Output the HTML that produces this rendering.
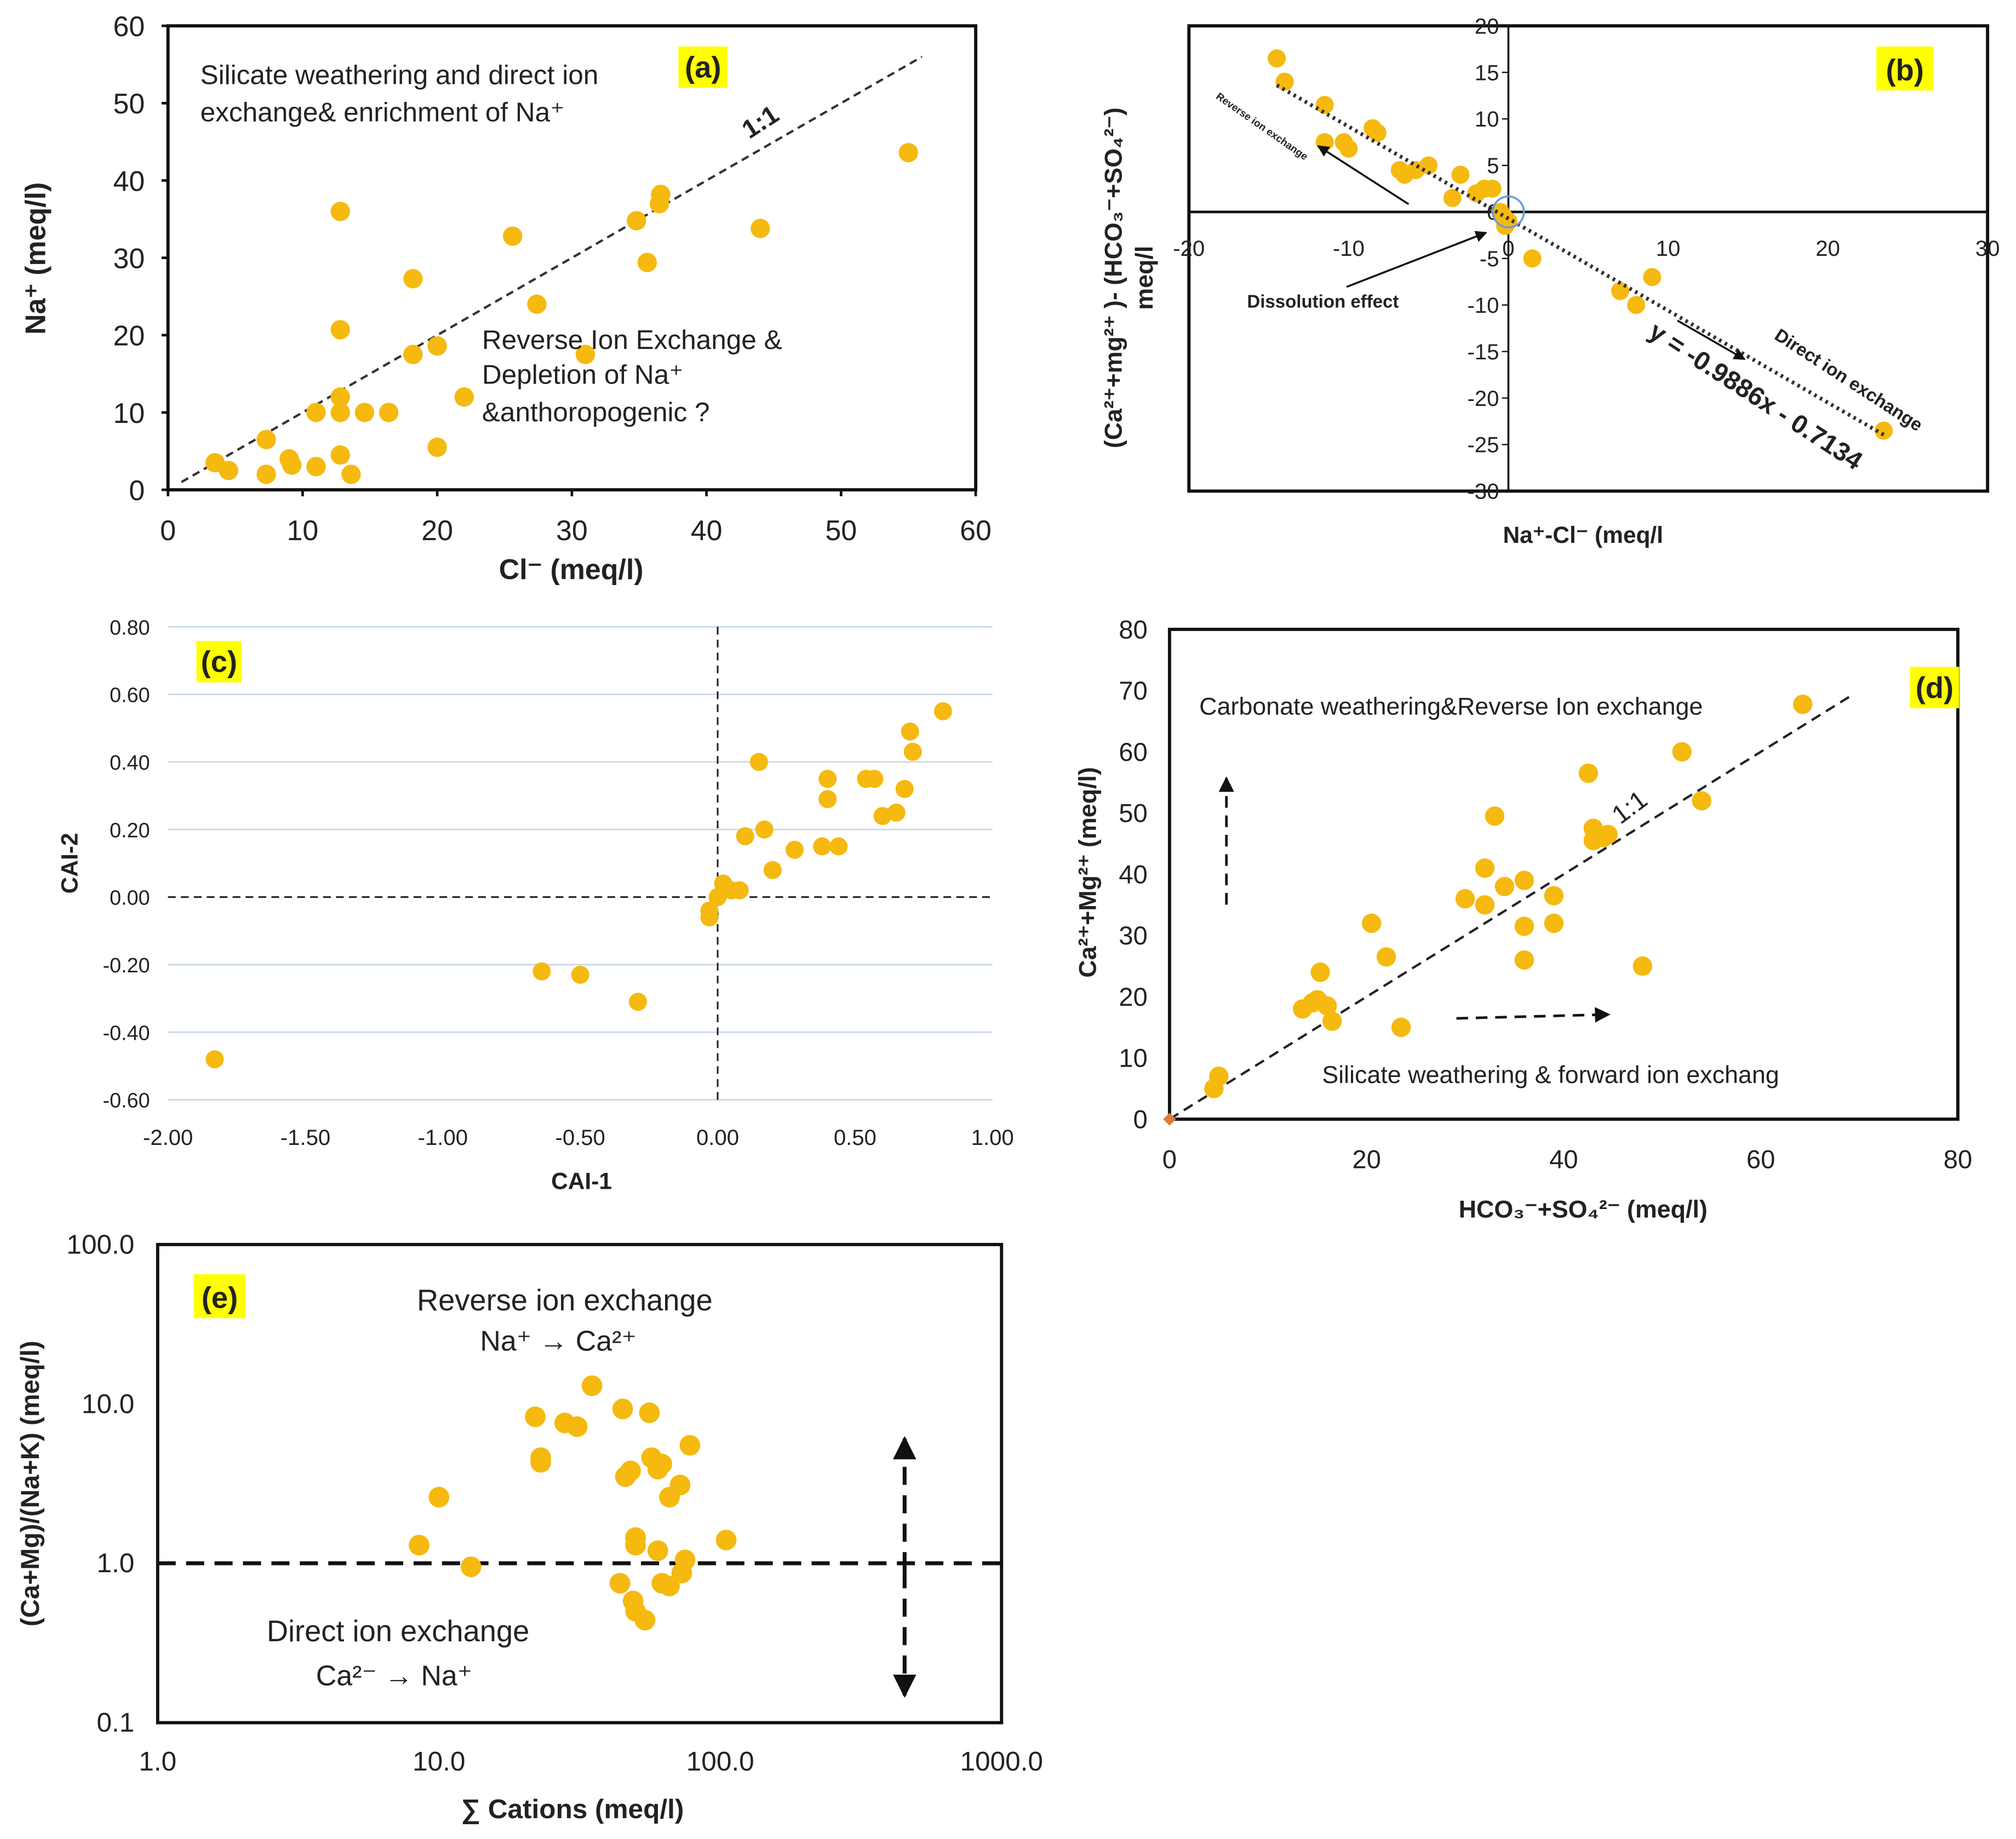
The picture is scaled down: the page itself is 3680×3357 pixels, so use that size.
<!DOCTYPE html>
<html><head><meta charset="utf-8"><style>
html,body{margin:0;padding:0;background:#fff;}
svg{display:block;font-family:"Liberation Sans",sans-serif;}
.t{fill:#222}
.ti{font-weight:bold;fill:#222}
.an{fill:#222}
</style></head><body>
<svg id="fig" width="3680" height="3357" viewBox="0 0 1560 1423" preserveAspectRatio="none" xmlns="http://www.w3.org/2000/svg">
<defs><marker id="ah" viewBox="0 0 10 10" refX="9" refY="5" markerWidth="6" markerHeight="6" orient="auto"><path d="M0,0L10,5L0,10z" fill="#111"/></marker></defs>
<g id="ga"></g>
<g id="gb"></g>
<g id="gc"></g>
<g id="gd"></g>
<g id="ge"></g>
</svg>
<script>
// Panel (a) data
const aCl=[3.5,4.5,7.3,7.3,9,9.2,11,11,12.8,12.8,12.8,13.6,12.8,12.8,14.6,16.4,18.2,18.2,20,20,22,25.6,27.4,31,34.8,35.6,36.5,36.6,44,55];
const aNa=[3.5,2.5,6.5,2,4,3.2,3,10,12,10,4.5,2,20.7,36,10,10,27.3,17.5,18.6,5.5,12,32.8,24,17.5,34.8,29.4,37,38.2,33.8,43.6];
const aTicks=[0,10,20,30,40,50,60];
// Panel (b) data
const bX=[-14.5,-14,-11.5,-11.5,-10.3,-10,-8.5,-8.2,-6.8,-6.5,-5.8,-5,-3.5,-3,-2,-1.5,-1,-0.5,-0.3,0,-0.2,1.5,7,8,9,23.5];
const bY=[16.5,14,11.5,7.5,7.5,6.8,9,8.5,4.5,4,4.5,5,1.5,4,2,2.5,2.5,0,-0.5,-1,-1.5,-5,-8.5,-10,-7,-23.5];
const bXTicks=[-20,-10,0,10,20,30];
const bYTicks=[20,15,10,5,0,-5,-10,-15,-20,-25,-30];
// Panel (c) data
const cX=[-1.83,-0.64,-0.5,-0.29,-0.03,-0.03,0,0.02,0.05,0.08,0.1,0.15,0.17,0.2,0.28,0.38,0.4,0.4,0.44,0.54,0.57,0.6,0.65,0.68,0.7,0.71,0.82];
const cY=[-0.48,-0.22,-0.23,-0.31,-0.04,-0.06,0,0.04,0.02,0.02,0.18,0.4,0.2,0.08,0.14,0.15,0.35,0.29,0.15,0.35,0.35,0.24,0.25,0.32,0.49,0.43,0.55];
const cXTicks=[-2,-1.5,-1,-0.5,0,0.5,1];
const cYTicks=[0.8,0.6,0.4,0.2,0,-0.2,-0.4,-0.6];
// Panel (d) data
const dX=[4.5,5,13.5,14.5,15,15.3,16,16.5,20.5,22,23.5,30,32,32,33,34,36,36,36,39,39,42.5,43,43,44,44.5,48,52,54];
const dY=[5,7,18,19,19.5,24,18.5,16,32,26.5,15,36,35,41,49.5,38,39,31.5,26,36.5,32,56.5,47.5,45.5,46,46.5,25,60,52];
const dTicks=[0,20,40,60,80];
// Panel (e) data
const eX=[8.5,10,13,22,23,23,28,31,35,45,46,48,50,50,44,49,54,56,57,60,62,60,62,66,66,72,73,75,78,105,50];
const eY=[1.3,2.6,0.95,8.3,4.6,4.3,7.6,7.2,13,9.3,3.5,3.8,1.45,1.3,0.75,0.58,0.44,8.8,4.6,3.9,4.2,1.2,0.75,0.72,2.6,3.1,0.87,1.05,5.5,1.4,0.5];
const eXTicks=[1,10,100,1000];
const eYTicks=[100,10,1,0.1];

const NS='http://www.w3.org/2000/svg';
const DOT='#f5b90f';
const DEF={t:17,ti:19,an:20};
function el(p,tag,at,txt){const e=document.createElementNS(NS,tag);for(const k in at)e.setAttribute(k,at[k]);if(txt!==undefined)e.textContent=txt;p.appendChild(e);return e;}
function lin(d0,d1,r0,r1){return v=>r0+(v-d0)/(d1-d0)*(r1-r0);}
function lg(d0,d1,r0,r1){return v=>r0+(Math.log10(v)-Math.log10(d0))/(Math.log10(d1)-Math.log10(d0))*(r1-r0);}
function dots(g,xs,ys,sx,sy,r){for(let i=0;i<xs.length;i++){const c=el(g,'circle',{cx:sx(xs[i]),cy:sy(ys[i]),r:r,fill:DOT});

}}
function txt(g,x,y,s,cls,extra,name){const ex=Object.assign({},extra||{});const fs=ex['font-size']||DEF[cls];delete ex['font-size'];
const t=el(g,'text',Object.assign({x:x,y:y,class:cls,style:'font-size:'+fs+'px'},ex),s);

return t;}
function tag(g,x,y,w,h,s,name){const r=el(g,'rect',{x:x,y:y,width:w,height:h,fill:'#ffff00'});


txt(g,x+w/2,y+h-8,s,'ti',{'text-anchor':'middle','font-size':23},name);}

// ===== Panel a
(function(){const g=document.getElementById('ga');
const sx=lin(0,60,130,755), sy=lin(0,60,379,20);
const box=el(g,'rect',{x:130,y:20,width:625,height:359,fill:'none',stroke:'#111','stroke-width':2.5});


aTicks.forEach(v=>{txt(g,sx(v),418,v,'t',{'text-anchor':'middle','font-size':22},'x-tick-label');
txt(g,112,sy(v)+8,v,'t',{'text-anchor':'end','font-size':22},'y-tick-label');
el(g,'line',{x1:sx(v),y1:379,x2:sx(v),y2:384,stroke:'#111','stroke-width':2});
el(g,'line',{x1:125,y1:sy(v),x2:130,y2:sy(v),stroke:'#111','stroke-width':2});});
const l=el(g,'line',{x1:sx(1),y1:sy(1),x2:sx(56),y2:sy(56),stroke:'#333','stroke-width':1.8,'stroke-dasharray':'6,4'});


txt(g,592,100,'1:1','ti',{'text-anchor':'middle','font-size':20,transform:'rotate(-33 592 100)'},'line-label');
dots(g,aCl,aNa,sx,sy,7.5);
txt(g,155,65,'Silicate weathering and direct ion','an',{'font-size':21},'annotation');
txt(g,155,94,'exchange& enrichment of Na⁺','an',{'font-size':21},'annotation');
txt(g,373,270,'Reverse Ion Exchange &','an',{'font-size':21},'annotation');
txt(g,373,297,'Depletion of Na⁺','an',{'font-size':21},'annotation');
txt(g,373,326,'&anthoropogenic ?','an',{'font-size':21},'annotation');
tag(g,525,36,38,32,'(a)','panel-label');
txt(g,442,448,'Cl⁻ (meq/l)','ti',{'text-anchor':'middle','font-size':22},'x-axis-title');
txt(g,35,200,'Na⁺ (meq/l)','ti',{'text-anchor':'middle','font-size':22,transform:'rotate(-90 35 200)'},'y-axis-title');
})();

// ===== Panel b
(function(){const g=document.getElementById('gb');
const sx=lin(-20,30,920,1538), sy=lin(-30,20,380,20);
const box=el(g,'rect',{x:920,y:20,width:618,height:360,fill:'none',stroke:'#111','stroke-width':2.5});


el(g,'line',{x1:920,y1:sy(0),x2:1538,y2:sy(0),stroke:'#111','stroke-width':2});
el(g,'line',{x1:sx(0),y1:20,x2:sx(0),y2:380,stroke:'#111','stroke-width':1.5});
bXTicks.forEach(v=>txt(g,sx(v),198,v,'t',{'text-anchor':'middle'},'x-tick-label'));
bYTicks.forEach(v=>{txt(g,1160,sy(v)+6,v,'t',{'text-anchor':'end'},'y-tick-label');el(g,'line',{x1:sx(0)-5,y1:sy(v),x2:sx(0),y2:sy(v),stroke:'#111'});});
dots(g,bX,bY,sx,sy,7);
const tl=el(g,'line',{x1:sx(-14.5),y1:sy(-0.9886*-14.5-0.7134),x2:sx(23.5),y2:sy(-0.9886*23.5-0.7134),stroke:'#333','stroke-width':3,'stroke-dasharray':'2,3'});


el(g,'circle',{cx:sx(0),cy:sy(0),r:12,fill:'none',stroke:'#6a9ad8','stroke-width':1.5});
txt(g,1355,312,'y = -0.9886x - 0.7134','ti',{'text-anchor':'middle','font-size':20,transform:'rotate(33 1355 312)'},'equation');
txt(g,1428,298,'Direct ion exchange','ti',{'text-anchor':'middle','font-size':14,transform:'rotate(33 1428 298)'},'annotation');
txt(g,975,100,'Reverse ion exchange','ti',{'text-anchor':'middle','font-size':8,transform:'rotate(35 975 100)'},'annotation');
txt(g,965,238,'Dissolution effect','ti',{'font-size':14},'annotation');
el(g,'line',{x1:1298,y1:248,x2:1350,y2:278,stroke:'#111','stroke-width':1.5,'marker-end':'url(#ah)'});
el(g,'line',{x1:1090,y1:158,x2:1020,y2:113,stroke:'#111','stroke-width':1.5,'marker-end':'url(#ah)'});
el(g,'line',{x1:1042,y1:222,x2:1150,y2:180,stroke:'#111','stroke-width':1.5,'marker-end':'url(#ah)'});
tag(g,1452,36,44,34,'(b)','panel-label');
txt(g,1225,420,'Na⁺-Cl⁻ (meq/l','ti',{'text-anchor':'middle','font-size':18},'x-axis-title');
txt(g,868,215,'(Ca²⁺+mg²⁺ )- (HCO₃⁻+SO₄²⁻)','ti',{'text-anchor':'middle','font-size':19,transform:'rotate(-90 868 215)'},'y-axis-title');
txt(g,892,215,'meq/l','ti',{'text-anchor':'middle','font-size':19,transform:'rotate(-90 892 215)'},'y-axis-title');
})();

// ===== Panel c
(function(){const g=document.getElementById('gc');
const sx=lin(-2,1,130,768), sy=lin(-0.6,0.8,851,485);
cYTicks.forEach(v=>{if(v!==0&&v!==-0.6){el(g,'line',{x1:130,y1:sy(v),x2:768,y2:sy(v),stroke:'#c9d9ea','stroke-width':1.2});}
txt(g,116,sy(v)+6,v.toFixed(2),'t',{'text-anchor':'end','font-size':16},'y-tick-label');});
el(g,'line',{x1:130,y1:851,x2:768,y2:851,stroke:'#c9d9ea','stroke-width':1.2});
cXTicks.forEach(v=>txt(g,sx(v),886,v.toFixed(2),'t',{'text-anchor':'middle','font-size':17},'x-tick-label'));
el(g,'line',{x1:130,y1:sy(0),x2:768,y2:sy(0),stroke:'#222','stroke-width':1.3,'stroke-dasharray':'6,4'});
el(g,'line',{x1:sx(0),y1:485,x2:sx(0),y2:851,stroke:'#222','stroke-width':1.3,'stroke-dasharray':'6,4'});
dots(g,cX,cY,sx,sy,7);
tag(g,152,496,35,32,'(c)','panel-label');
txt(g,450,920,'CAI-1','ti',{'text-anchor':'middle','font-size':18},'x-axis-title');
txt(g,60,668,'CAI-2','ti',{'text-anchor':'middle','font-size':18,transform:'rotate(-90 60 668)'},'y-axis-title');
})();

// ===== Panel d
(function(){const g=document.getElementById('gd');
const sx=lin(0,80,905,1515), sy=lin(0,80,866,487);
const box=el(g,'rect',{x:905,y:487,width:610,height:379,fill:'none',stroke:'#111','stroke-width':2.5});


dTicks.forEach(v=>txt(g,sx(v),904,v,'t',{'text-anchor':'middle','font-size':20},'x-tick-label'));
for(let v=0;v<=80;v+=10)txt(g,888,sy(v)+7,v,'t',{'text-anchor':'end','font-size':20},'y-tick-label');
el(g,'line',{x1:sx(0),y1:sy(0),x2:sx(69),y2:sy(69),stroke:'#222','stroke-width':1.8,'stroke-dasharray':'8,5'});
txt(g,1265,630,'1:1','an',{'text-anchor':'middle','font-size':20,transform:'rotate(-37 1265 630)'},'line-label');
dots(g,dX,dY,sx,sy,7.5);
el(g,'path',{d:`M${sx(0)-5},${sy(0)}l5,-5l5,5l-5,5z`,fill:'#e07b39'});
txt(g,928,553,'Carbonate  weathering&Reverse Ion exchange','an',{'font-size':19},'legend-label');
const lm=el(g,'circle',{cx:1395,cy:545,r:7.5,fill:DOT});


txt(g,1023,838,'Silicate weathering & forward ion exchang','an',{'font-size':19},'annotation');
el(g,'line',{x1:949,y1:700,x2:949,y2:602,stroke:'#111','stroke-width':2,'stroke-dasharray':'9,6','marker-end':'url(#ah)'});
el(g,'line',{x1:1127,y1:788,x2:1245,y2:785,stroke:'#111','stroke-width':2,'stroke-dasharray':'9,6','marker-end':'url(#ah)'});
tag(g,1478,516,38,32,'(d)','panel-label');
txt(g,1225,942,'HCO₃⁻+SO₄²⁻ (meq/l)','ti',{'text-anchor':'middle','font-size':19},'x-axis-title');
txt(g,848,675,'Ca²⁺+Mg²⁺ (meq/l)','ti',{'text-anchor':'middle','font-size':19,transform:'rotate(-90 848 675)'},'y-axis-title');
})();

// ===== Panel e
(function(){const g=document.getElementById('ge');
const sx=lg(1,1000,122,775), sy=lg(0.1,100,1333,963);
const box=el(g,'rect',{x:122,y:963,width:653,height:370,fill:'none',stroke:'#111','stroke-width':2.5});


eXTicks.forEach(v=>txt(g,sx(v),1370,v.toFixed(1),'t',{'text-anchor':'middle','font-size':21},'x-tick-label'));
eYTicks.forEach(v=>txt(g,104,sy(v)+7,v.toFixed(1),'t',{'text-anchor':'end','font-size':21},'y-tick-label'));
el(g,'line',{x1:122,y1:sy(1),x2:775,y2:sy(1),stroke:'#111','stroke-width':3,'stroke-dasharray':'14,8'});
dots(g,eX,eY,sx,sy,8);
el(g,'line',{x1:700,y1:1215,x2:700,y2:1113,stroke:'#111','stroke-width':3,'stroke-dasharray':'14,8','marker-end':'url(#ah)'});
el(g,'line',{x1:700,y1:1215,x2:700,y2:1312,stroke:'#111','stroke-width':3,'stroke-dasharray':'14,8','marker-end':'url(#ah)'});
tag(g,150,986,40,34,'(e)','panel-label');
txt(g,437,1014,'Reverse ion exchange','an',{'text-anchor':'middle','font-size':23},'annotation');
txt(g,432,1045,'Na⁺ → Ca²⁺','an',{'text-anchor':'middle','font-size':22},'annotation');
txt(g,308,1270,'Direct  ion exchange','an',{'text-anchor':'middle','font-size':23},'annotation');
txt(g,305,1304,'Ca²⁻ → Na⁺','an',{'text-anchor':'middle','font-size':22},'annotation');
txt(g,443,1407,'∑ Cations (meq/l)','ti',{'text-anchor':'middle','font-size':21},'x-axis-title');
txt(g,30,1148,'(Ca+Mg)/(Na+K) (meq/l)','ti',{'text-anchor':'middle','font-size':20,transform:'rotate(-90 30 1148)'},'y-axis-title');
})();
</script>
</body></html>
